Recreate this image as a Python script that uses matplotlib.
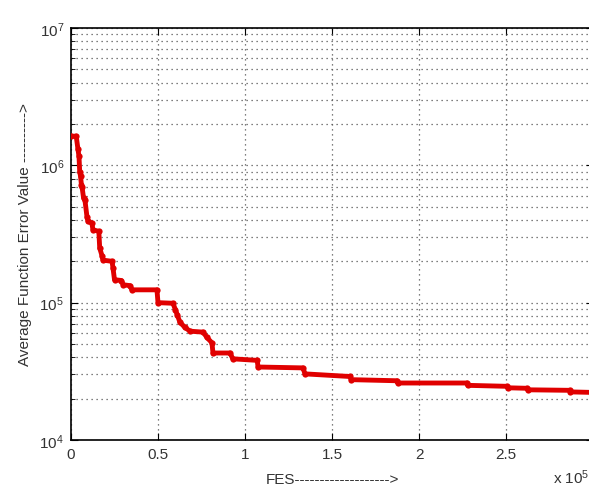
import numpy as np
import matplotlib
matplotlib.use('Agg')
from matplotlib import pyplot as plt
from matplotlib.ticker import FixedLocator, LogLocator, NullFormatter

# FES (in units of 1e5) and average error
fes = [0.0, 0.03, 0.04, 0.046, 0.05, 0.055, 0.06, 0.064, 0.072, 0.08,
       0.092, 0.098, 0.12, 0.126, 0.16, 0.165, 0.178, 0.184, 0.236, 0.241,
       0.25, 0.29, 0.30, 0.34, 0.35, 0.494, 0.50, 0.586, 0.60, 0.61,
       0.626, 0.655, 0.684, 0.76, 0.78, 0.81, 0.816, 0.914, 0.93, 1.07,
       1.075, 1.333, 1.345, 1.603, 1.61, 1.874, 1.88, 2.276, 2.28, 2.506,
       2.51, 2.62, 2.625, 2.868, 2.87, 3.0]
err = [1.63e6, 1.63e6, 1.31e6, 1.16e6, 9.0e5, 8.3e5, 7.2e5, 6.9e5, 5.8e5, 5.6e5,
       4.2e5, 3.9e5, 3.8e5, 3.4e5, 3.3e5, 2.5e5, 2.2e5, 2.04e5, 2.0e5, 1.8e5,
       1.47e5, 1.45e5, 1.35e5, 1.33e5, 1.24e5, 1.24e5, 1.0e5, 9.9e4, 8.9e4, 8.2e4,
       7.2e4, 6.6e4, 6.2e4, 6.1e4, 5.6e4, 5.1e4, 4.3e4, 4.3e4, 3.9e4, 3.8e4,
       3.4e4, 3.35e4, 3.03e4, 2.9e4, 2.75e4, 2.7e4, 2.6e4, 2.6e4, 2.5e4, 2.46e4,
       2.4e4, 2.38e4, 2.32e4, 2.3e4, 2.24e4, 2.22e4]

xticks = [0, 0.5, 1, 1.5, 2, 2.5, 3]
# the "3" label falls outside the cropped picture
xtick_labels = ['0', '0.5', '1', '1.5', '2', '2.5', '']

plt.rcParams['font.family'] = ['Liberation Sans', 'DejaVu Sans']
plt.rcParams['mathtext.fontset'] = 'custom'
plt.rcParams['mathtext.rm'] = 'Liberation Sans'
plt.rcParams['mathtext.it'] = 'Liberation Sans:italic'

txt = '#333333'

fig = plt.figure(figsize=(5.89, 4.89), dpi=100)
ax = fig.add_axes([71 / 589, 48 / 489, 522 / 589, 412 / 489])

ax.plot(fes, err, color='#e00000', linestyle='-', linewidth=3.5,
        marker='o', markersize=4.5, markeredgewidth=0, zorder=3)

ax.set_yscale('log')
ax.set_ylim(1e4, 1e7)
ax.set_xlim(0, 3)

ax.xaxis.set_major_locator(FixedLocator(xticks))
ax.set_xticklabels(xtick_labels)
ax.yaxis.set_major_locator(LogLocator(base=10, numticks=10))
ax.yaxis.set_minor_locator(LogLocator(base=10, subs=np.arange(2, 10), numticks=100))
ax.yaxis.set_minor_formatter(NullFormatter())

grid_style = dict(linestyle=(0, (1, 3)), color='#555555', linewidth=0.9)
ax.grid(True, which='major', **grid_style)
ax.grid(True, which='minor', axis='y', **grid_style)

ax.tick_params(which='both', direction='in', top=True, right=True,
               labelsize=11, labelcolor=txt, pad=5)
ax.tick_params(which='major', length=5)
ax.tick_params(which='minor', length=3)
for sp in ax.spines.values():
    sp.set_linewidth(1.2)

ax.set_xlabel('FES------------------->', fontsize=11, color=txt, labelpad=8)
ax.set_ylabel('Average Function Error Value ---------->', fontsize=11, color=txt, labelpad=5.5)
fig.text(553 / 589, 1 - 484 / 489, r'x 10$^5$', fontsize=11, color=txt)

plt.savefig('out.png', dpi=100, facecolor='w')
